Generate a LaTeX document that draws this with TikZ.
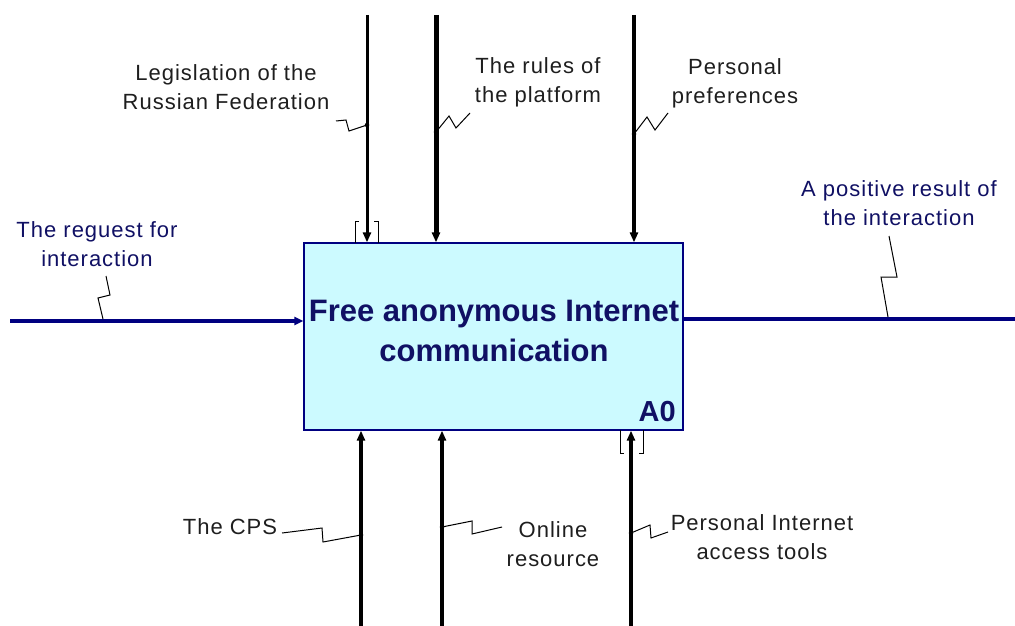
\documentclass[tikz,border=0pt]{standalone}
\usepackage{fontspec}
\setmainfont{Liberation Sans}
\usetikzlibrary{arrows.meta}
\definecolor{boxfill}{RGB}{204,250,255}
\definecolor{navy}{RGB}{0,0,128}
\definecolor{titleblue}{RGB}{16,16,100}
\definecolor{labelgrey}{RGB}{30,30,30}
\begin{document}
\begin{tikzpicture}[x=1pt,y=-1pt,
  lbl/.style={align=center,text=labelgrey,font=\fontsize{22}{29}\selectfont\addfontfeatures{LetterSpace=4.5},inner sep=0pt},
  bluelbl/.style={lbl,text=titleblue},
  flow/.style={line width=3.2pt,black},
  hflow/.style={line width=4pt,navy},
  tip/.style={-{Triangle[length=10pt,width=8pt]}},
  leader/.style={line width=1pt,black},
  tunnel/.style={line width=1pt,black},
  junction/.style={fill=black,circle,inner sep=0pt,minimum size=4.5pt}]
\useasboundingbox (0,0) rectangle (1015,626);

% activity box A0
\node[draw=navy,line width=1.3pt,fill=boxfill,minimum width=379pt,minimum height=187pt,inner sep=0pt] (box) at (493.5,336.5) {};
\node[text=titleblue,font=\bfseries\fontsize{31}{40}\selectfont,align=center,inner sep=0pt] (title) at (494,331) {Free anonymous Internet\\communication};
\node[text=titleblue,font=\bfseries\fontsize{29}{29}\selectfont,anchor=base east,inner sep=0pt] (num) at (676,421) {A0};

% controls (top)
\coordinate (ctl1) at (367,15);
\coordinate (ctl2) at (436,15);
\coordinate (ctl3) at (634,15);
\draw[flow,tip,line width=3pt] (ctl1) -- (ctl1 |- box.north);
\draw[flow,tip,line width=5pt] (ctl2) -- (ctl2 |- box.north);
\draw[flow,tip,line width=3.8pt] (ctl3) -- (ctl3 |- box.north);
% tunnel brackets on the first control
\draw[tunnel] (359,221) -- (355,221) -- (355,243);
\draw[tunnel] (374,221) -- (378,221) -- (378,243);

% mechanisms (bottom)
\coordinate (mec1) at (361,626);
\coordinate (mec2) at (442,626);
\coordinate (mec3) at (631,626);
\draw[flow,tip] (mec1) -- (mec1 |- box.south);
\draw[flow,tip] (mec2) -- (mec2 |- box.south);
\draw[flow,tip] (mec3) -- (mec3 |- box.south);
% tunnel brackets on the third mechanism
\draw[tunnel] (620,430) -- (620,453) -- (624,453);
\draw[tunnel] (643,430) -- (643,453) -- (639,453);

% input and output
\coordinate (inp) at (10,321);
\coordinate (outp) at (1015,319);
\draw[hflow,-{Triangle[length=9pt,width=8pt]}] (inp) -- (inp -| box.west);
\draw[hflow] (box.east |- outp) -- (outp);

% labels
\node[lbl] (lLaw) at (226,87) {Legislation of the\\Russian Federation};
\node[lbl] (lRules) at (538,82) {The rules of\\the platform};
\node[lbl] (lPref) at (735,83) {Personal\\preferences};
\node[bluelbl] (lIn) at (97,244) {The reguest for\\interaction};
\node[bluelbl] (lOut) at (899,203) {A positive result of\\the interaction};
\node[lbl] (lCPS) at (230,527) {The CPS};
\node[lbl] (lOnl) at (553,544) {Online\\resource};
\node[lbl] (lTools) at (762,537) {Personal Internet\\access tools};

% squiggle leaders
\draw[leader] (336,121) -- (346,120) -- (349,131) -- (367,125);
\node[junction] (jLaw) at (367,125) {};
\draw[leader] (436,132) -- (449,116) -- (456,128) -- (470,113);
\node[junction] (jRules) at (436,132) {};
\draw[leader] (634,134) -- (647,117) -- (655,130) -- (668,113);
\node[junction] (jPref) at (634,134) {};
\draw[leader] (106,276) -- (110,295) -- (98,298) -- (103,319);
\draw[leader] (889,236) -- (897,277) -- (881,277) -- (888,317);
\draw[leader] (282,533) -- (322,528) -- (323,542) -- (361,535);
\node[junction] (jCPS) at (361,535) {};
\draw[leader] (442,527) -- (472,521) -- (472,534) -- (502,527);
\node[junction] (jOnl) at (442,527) {};
\draw[leader] (631,533) -- (650,525) -- (651,538) -- (668,532);
\node[junction] (jTools) at (631,533) {};
\end{tikzpicture}
\end{document}
